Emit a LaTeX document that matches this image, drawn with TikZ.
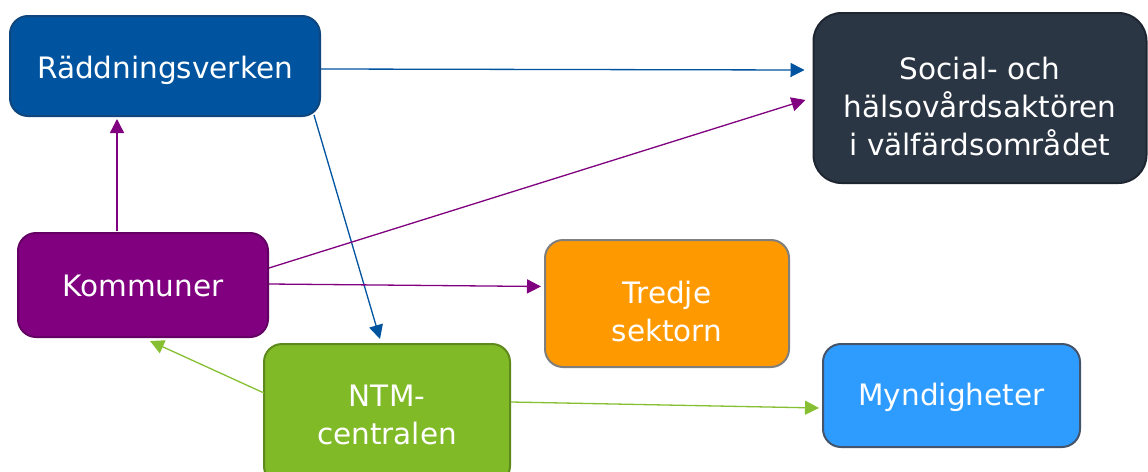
\documentclass[tikz,border=0pt]{standalone}
\usepackage{fontspec}
\setmainfont{DejaVu Sans}
\usetikzlibrary{arrows.meta,calc}
\definecolor{rblue}{RGB}{0,84,159}
\definecolor{rblueb}{RGB}{14,70,125}
\definecolor{sdark}{RGB}{43,54,69}
\definecolor{sdarkb}{RGB}{30,38,50}
\definecolor{kpurp}{RGB}{128,0,128}
\definecolor{kpurpb}{RGB}{100,0,100}
\definecolor{torange}{RGB}{255,153,0}
\definecolor{tgray}{RGB}{127,127,127}
\definecolor{ngreen}{RGB}{128,186,39}
\definecolor{ngreenb}{RGB}{94,138,29}
\definecolor{mblue}{RGB}{46,155,255}
\definecolor{mblueb}{RGB}{68,84,106}
\definecolor{agreen}{RGB}{134,192,50}
\tikzset{
  box/.style={rectangle, rounded corners=18pt, line width=2pt, inner sep=0pt},
  txt/.style={text=white, align=center, inner sep=0pt, font=\fontsize{29.5}{38}\selectfont},
  conn/.style={line width=1.3pt, -{Triangle[length=14pt,width=14pt]}}
}
\begin{document}
\begin{tikzpicture}[x=1pt,y=-1pt]
\clip (0,0) rectangle (1148,471);
\fill[white] (0,0) rectangle (1148,471);
\node[box, fill=rblue, draw=rblueb, minimum width=310pt, minimum height=100pt] (r) at (165,66) {};
\node[txt] (rt) at ($(r.center)+(0,4)$) {Räddningsverken};
\node[box, fill=sdark, draw=sdarkb, minimum width=333pt, minimum height=170pt, rounded corners=28pt] (s) at (980,98) {};
\node[txt] (st) at ($(s.center)+(0,8)$) {Social- och\\hälsovårdsaktören\\i välfärdsområdet};
\node[box, fill=kpurp, draw=kpurpb, minimum width=250pt, minimum height=104pt] (k) at (143,285) {};
\node[txt] (kt) at ($(k.center)+(0,1)$) {Kommuner};
\node[box, fill=torange, draw=tgray, minimum width=244pt, minimum height=127pt] (t) at (667,303.5) {};
\node[txt] (tt) at ($(t.center)+(0,8)$) {Tredje\\sektorn};
\node[box, fill=ngreen, draw=ngreenb, minimum width=246pt, minimum height=140pt] (n) at (387,414) {};
\node[txt] (nt) at ($(n.center)+(0,1)$) {NTM-\\centralen};
\node[box, fill=mblue, draw=mblueb, minimum width=257pt, minimum height=103pt] (m) at (951.5,395.5) {};
\node[txt] (mt) at ($(m.center)+(0,2)$) {Myndigheter};

\draw[conn, rblue] ($(r.east)+(0,3)$) -- ($(s.west)+(-8,-28)$);
\draw[conn, rblue] ($(r.south east)+(-7,-2)$) -- ($(n.north)+(-7,-4)$);
\draw[conn, kpurp] ($(k.north)+(-26,-1)$) -- ($(r.south)+(-48,2)$);
\draw[conn, kpurp] ($(k.east)+(0,-17)$) -- ($(s.west)+(-7,2)$);
\draw[conn, kpurp] ($(k.east)+(0,-1)$) -- ($(t.west)+(-3,-17)$);
\draw[conn, agreen] ($(n.west)+(1,-21)$) -- ($(k.south)+(7,3)$);
\draw[conn, agreen] ($(n.east)+(0,-12)$) -- ($(m.west)+(-3,12.5)$);
\end{tikzpicture}
\end{document}
